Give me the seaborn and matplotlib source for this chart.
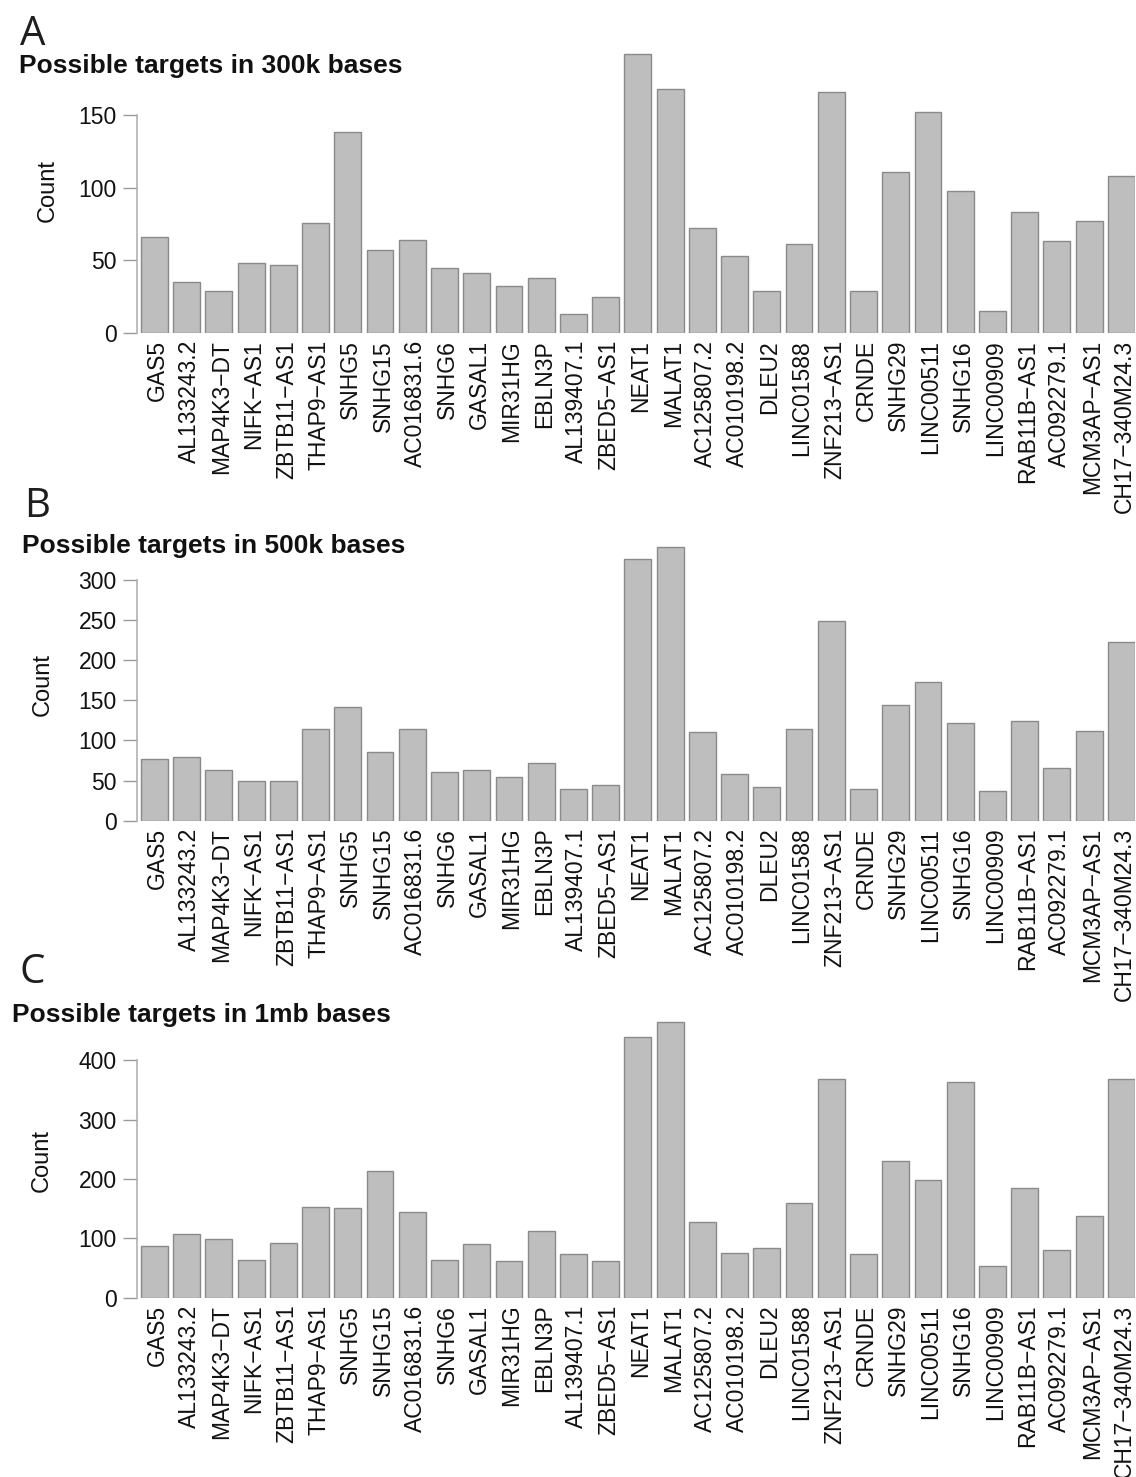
import numpy as np
import pandas as pd
import matplotlib
matplotlib.use("Agg")
import matplotlib.pyplot as plt
import matplotlib.transforms as mtransforms
import seaborn as sns

# lncRNA genes on the x axis (same order in every panel)
genes = ["GAS5", "AL133243.2", "MAP4K3-DT", "NIFK-AS1", "ZBTB11-AS1", "THAP9-AS1",
         "SNHG5", "SNHG15", "AC016831.6", "SNHG6", "GASAL1", "MIR31HG", "EBLN3P",
         "AL139407.1", "ZBED5-AS1", "NEAT1", "MALAT1", "AC125807.2", "AC010198.2",
         "DLEU2", "LINC01588", "ZNF213-AS1", "CRNDE", "SNHG29", "LINC00511",
         "SNHG16", "LINC00909", "RAB11B-AS1", "AC092279.1", "MCM3AP-AS1",
         "CH17-340M24.3"]

# number of possible targets within each window
counts_300k = [66, 35, 29, 48, 47, 76, 138, 57, 64, 45, 41, 32, 38, 13, 25,
               192, 168, 72, 53, 29, 61, 166, 29, 111, 152, 98, 15, 83, 63, 77, 108]
counts_500k = [77, 79, 63, 50, 50, 114, 141, 85, 114, 61, 63, 55, 72, 40, 45,
               326, 341, 111, 58, 42, 114, 248, 39, 144, 173, 122, 37, 124, 66, 112, 222]
counts_1mb = [87, 108, 99, 63, 93, 153, 151, 214, 144, 63, 91, 62, 112, 73, 61,
              440, 464, 128, 75, 83, 160, 368, 73, 231, 199, 364, 53, 185, 80, 138, 369]

panel_letters = ["A", "B", "C"]
panel_titles = ["Possible targets in 300k bases",
                "Possible targets in 500k bases",
                "Possible targets in 1mb bases"]
yticks_300k = [0, 50, 100, 150]
yticks_500k = [0, 50, 100, 150, 200, 250, 300]
yticks_1mb = [0, 100, 200, 300, 400]

W, H, DPI = 1136, 1477, 100

sns.set_style("white")
plt.rcParams["font.family"] = ["Liberation Sans", "DejaVu Sans"]
plt.rcParams["axes.unicode_minus"] = True

fig = plt.figure(figsize=(W / DPI, H / DPI), dpi=DPI)
fig.patch.set_facecolor("white")


def fig_xy(px, py):
    return px / W, 1 - py / H


# pixel layout for each panel: baseline of zero, pixels per count unit,
# and anchor points for the letter, title and y label
layout = [
    dict(counts=counts_300k, ticks=yticks_300k, zero=333.0, scale=218.0 / 150,
         letter=(20, 45), title=(19, 73), ylab=(48, 191)),
    dict(counts=counts_500k, ticks=yticks_500k, zero=820.7, scale=241.0 / 300,
         letter=(24, 517), title=(22, 553), ylab=(43, 684)),
    dict(counts=counts_1mb, ticks=yticks_1mb, zero=1297.7, scale=237.4 / 400,
         letter=(19, 983), title=(12, 1022), ylab=(42, 1161)),
]

AX_LEFT, AX_RIGHT = 137.0, 1134.8
BAR_W = 1 / 1.2
XMIN, XMAX = -BAR_W / 2 - 0.124, 30 + BAR_W / 2

display_genes = [g.replace("-", "\u2212") for g in genes]
shift = mtransforms.ScaledTranslation(3 / DPI, 0, fig.dpi_scale_trans)

for letter, title, spec in zip(panel_letters, panel_titles, layout):
    ymax = max(spec["counts"]) * 1.04
    height = ymax * spec["scale"]
    ax = fig.add_axes([AX_LEFT / W, 1 - spec["zero"] / H,
                       (AX_RIGHT - AX_LEFT) / W, height / H])
    ax.set_facecolor("none")

    df = pd.DataFrame({"gene": display_genes, "count": spec["counts"]})
    sns.barplot(data=df, x="gene", y="count", color="#BEBEBE", saturation=1,
                width=BAR_W, edgecolor="#8A8A8A", linewidth=1.0, ax=ax)

    ax.set_xlim(XMIN, XMAX)
    ax.set_ylim(0, ymax)
    for side in ("top", "right", "bottom"):
        ax.spines[side].set_visible(False)
    ax.spines["left"].set_bounds(0, spec["ticks"][-1])
    ax.spines["left"].set_color("#ABABAB")
    ax.spines["left"].set_linewidth(1.1)

    ax.set_yticks(spec["ticks"])
    ax.set_yticklabels([str(t) for t in spec["ticks"]])
    ax.tick_params(axis="y", left=True, length=10, width=1.0, color="#9A9A9A",
                   pad=4.7, labelsize=16.5, labelcolor="#111111")
    ax.tick_params(axis="x", bottom=False, length=0, pad=5, labelsize=16.5,
                   labelcolor="#111111", labelrotation=90)
    for lab in ax.get_xticklabels():
        lab.set_transform(lab.get_transform() + shift)

    ax.set_xlabel("")
    ax.set_ylabel("Count", fontsize=17, color="#111111", va="center")
    ax.yaxis.set_label_coords(*fig_xy(*spec["ylab"]), transform=fig.transFigure)

    fig.text(*fig_xy(*spec["letter"]), letter, family=["Open Sans", "DejaVu Sans"],
             weight="normal", fontsize=29, color="#1E1E1E", ha="left", va="baseline")
    fig.text(*fig_xy(*spec["title"]), title, fontsize=19, fontweight="bold",
             color="#111111", ha="left", va="baseline")

fig.savefig("out.png", dpi=DPI, facecolor="white")
